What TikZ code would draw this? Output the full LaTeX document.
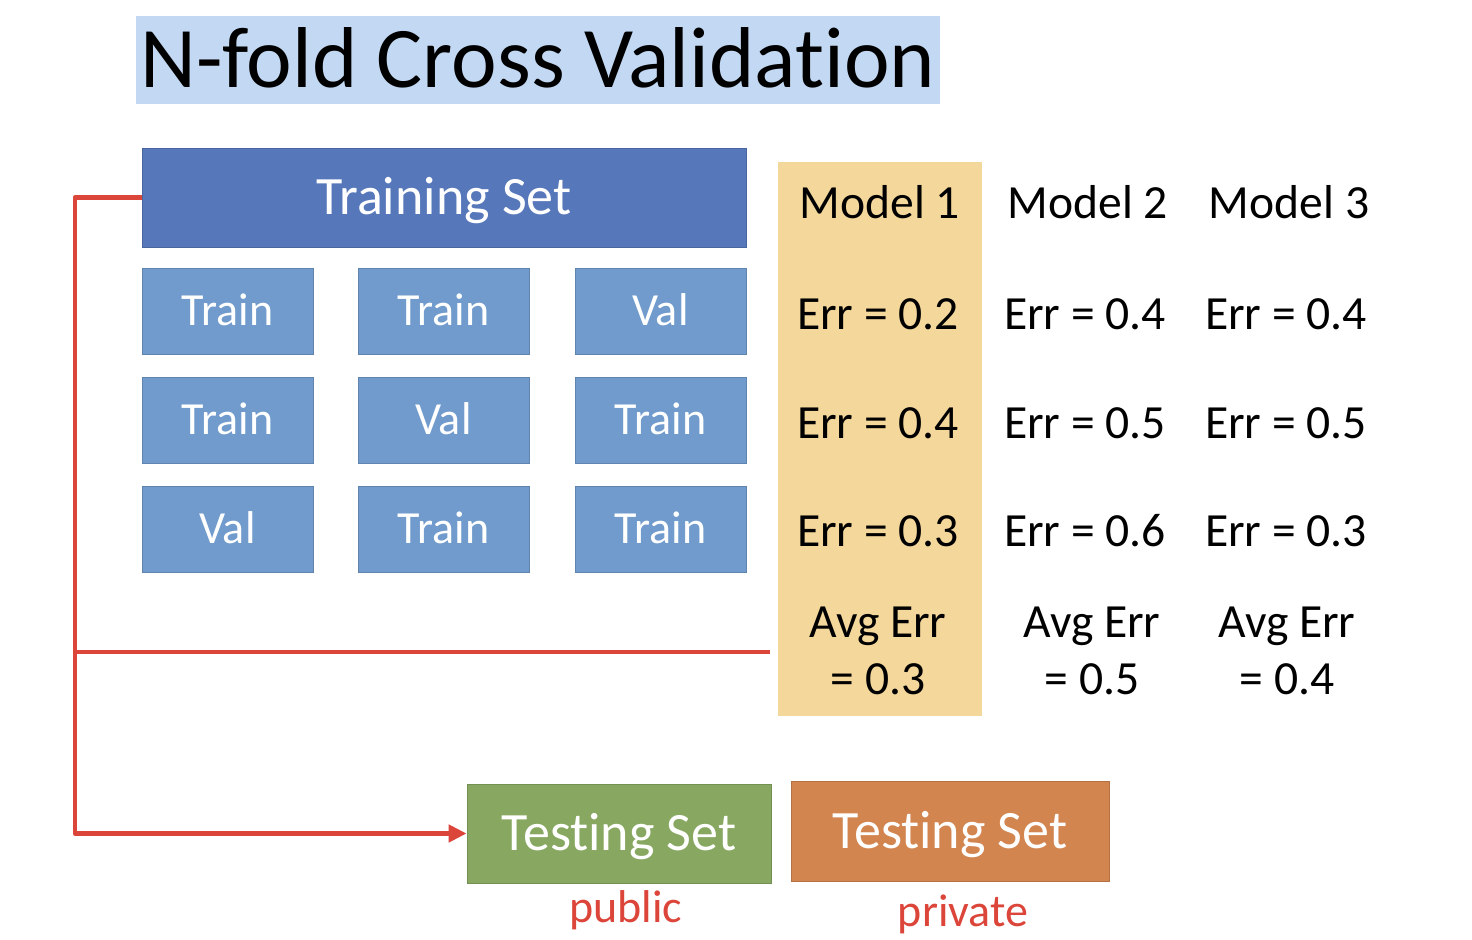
\documentclass[tikz,border=0pt]{standalone}
\usepackage{fontspec}
\setmainfont{Carlito}[Ligatures={NoCommon}]
\usetikzlibrary{arrows.meta}
\definecolor{titlebg}{HTML}{C3D9F3}
\definecolor{tsblue}{HTML}{5677BA}
\definecolor{foldblue}{HTML}{709BCC}
\definecolor{modelbg}{HTML}{F4D79B}
\definecolor{redl}{HTML}{DC4539}
\definecolor{testgreen}{HTML}{88A862}
\definecolor{testorange}{HTML}{D38550}
\begin{document}
\begin{tikzpicture}[x=0.5pt,y=-0.5pt,
  cbox/.style={rectangle, inner sep=0pt, text=white, text depth=0pt},
  foldbox/.style={cbox, fill=foldblue, draw=foldblue!85!black, line width=0.4pt, text height=14.8pt,
    minimum width=85.5pt, minimum height=43pt, font=\fontsize{23}{27}\selectfont},
  bigbox/.style={cbox, text height=17.4pt, font=\fontsize{27}{32}\selectfont},
  cell/.style={anchor=base, inner sep=0pt, font=\fontsize{23.8}{28}\selectfont},
  tag/.style={anchor=base, inner sep=0pt, text=redl, font=\fontsize{23}{27}\selectfont},
  redline/.style={draw=redl, line width=2.3pt, line join=round}
]
\useasboundingbox (0,0) rectangle (1472,940);
\fill[white] (0,0) rectangle (1472,940);

% title
\node[cbox, text=black, fill=titlebg, minimum width=402pt, minimum height=44pt, text height=27.6pt,
  font=\fontsize{43.2}{50}\selectfont] (title) at (538,60) {N-fold Cross Validation};

% model 1 highlight
\node[rectangle, fill=modelbg, inner sep=0pt, minimum width=102pt, minimum height=277pt] (m1bg) at (880,439) {};

% training set
\node[bigbox, fill=tsblue, draw=tsblue!85!black, line width=0.4pt, minimum width=302pt, minimum height=49.5pt] (ts) at (444,197.5) {Training Set};

% folds
\node[foldbox] (f11) at (227.5,311) {Train};
\node[foldbox] (f12) at (443.5,311) {Train};
\node[foldbox] (f13) at (660.5,311) {Val};
\node[foldbox] (f21) at (227.5,420) {Train};
\node[foldbox] (f22) at (443.5,420) {Val};
\node[foldbox] (f23) at (660.5,420) {Train};
\node[foldbox] (f31) at (227.5,529) {Val};
\node[foldbox] (f32) at (443.5,529) {Train};
\node[foldbox] (f33) at (660.5,529) {Train};

% model table
\node[cell] (h1) at (880,219) {Model 1};
\node[cell] (h2) at (1088,219) {Model 2};
\node[cell] (h3) at (1289,219) {Model 3};
\node[cell] (e11) at (878,330) {Err = 0.2};
\node[cell] (e12) at (1085,330) {Err = 0.4};
\node[cell] (e13) at (1286,330) {Err = 0.4};
\node[cell] (e21) at (878,439) {Err = 0.4};
\node[cell] (e22) at (1085,439) {Err = 0.5};
\node[cell] (e23) at (1286,439) {Err = 0.5};
\node[cell] (e31) at (878,547) {Err = 0.3};
\node[cell] (e32) at (1085,547) {Err = 0.6};
\node[cell] (e33) at (1286,547) {Err = 0.3};
\node[cell] (a1) at (878,638) {Avg Err};
\node[cell] (a2) at (1092,638) {Avg Err};
\node[cell] (a3) at (1287,638) {Avg Err};
\node[cell] (v1) at (878,694) {= 0.3};
\node[cell] (v2) at (1092,694) {= 0.5};
\node[cell] (v3) at (1287,694) {= 0.4};

% testing sets
\node[bigbox, fill=testgreen, draw=testgreen!85!black, line width=0.4pt, minimum width=152pt, minimum height=49.5pt] (test1) at (619,833.5) {Testing Set};
\node[bigbox, fill=testorange, draw=testorange!85!black, line width=0.4pt, minimum width=159pt, minimum height=50pt] (test2) at (950,831) {Testing Set};
\node[tag] (pub) at (626,922) {public};
\node[tag] (priv) at (963,926) {private};

% red connectors
\coordinate (corner) at (75,833.5);
\coordinate (jn) at (75,652);
\draw[redline, -{Triangle[length=9pt,width=8.5pt]}] (ts.west) -| (corner) -- (test1.west);
\draw[redline, shorten >=4pt] (jn) -- (m1bg.west |- jn);
\end{tikzpicture}
\end{document}
